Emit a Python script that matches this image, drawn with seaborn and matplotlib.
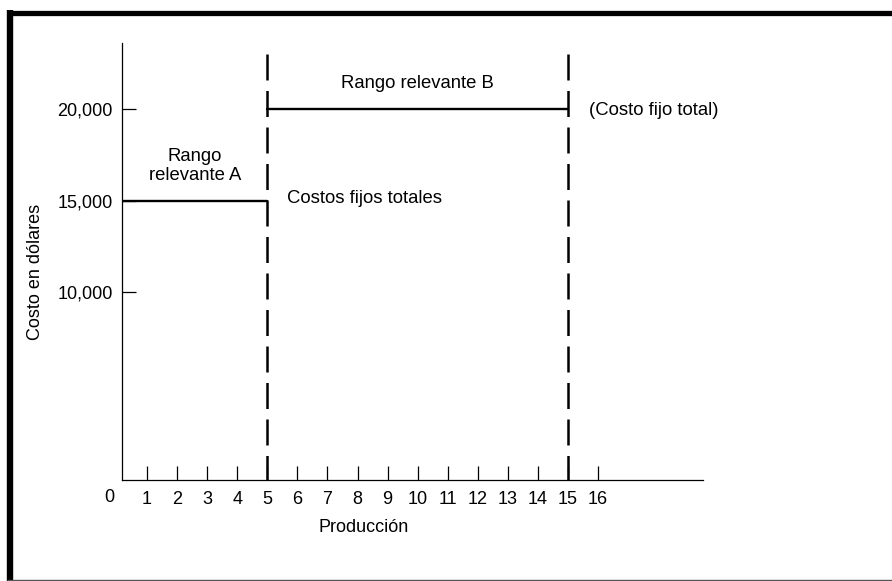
import matplotlib
matplotlib.use("Agg")
import matplotlib.pyplot as plt
import matplotlib.transforms as mtransforms
from matplotlib.lines import Line2D
import seaborn as sns

# chart values
prod_ticks = list(range(1, 17))
cost_ticks = [10000, 15000, 20000]
cost_labels = ["10,000", "15,000", "20,000"]
range_a = [0, 5]
cost_a = [15000, 15000]
range_b = [5, 15]
cost_b = [20000, 20000]
boundaries = [5, 15]
boundary_top = 23000

sns.set_theme(style="white")
plt.rcParams['font.family'] = ['Liberation Sans', 'DejaVu Sans']
plt.rcParams['font.size'] = 13
plt.rcParams['text.color'] = 'black'
plt.rcParams['axes.labelcolor'] = 'black'
plt.rcParams['xtick.color'] = 'black'
plt.rcParams['ytick.color'] = 'black'

fig = plt.figure(figsize=(8.92, 5.81), dpi=100)
ax = fig.add_axes([0.1368, 0.1738, 0.6513, 0.7522])

y_min, y_max = -273, 23607
x_min, x_max = 0.166, 19.49

# fixed cost levels for each relevant range
sns.lineplot(x=range_a, y=cost_a, ax=ax, color='black', linewidth=1.7, estimator=None)
sns.lineplot(x=range_b, y=cost_b, ax=ax, color='black', linewidth=1.7, estimator=None)

# range boundaries (dashed)
for b in boundaries:
    ax.plot([b, b], [boundary_top, y_min], color='black', linewidth=1.8,
            linestyle=(0, (10.4, 4.2)), solid_capstyle='butt')

ax.set_xlim(x_min, x_max)
ax.set_ylim(y_min, y_max)

sns.despine(ax=ax)
for side in ['left', 'bottom']:
    ax.spines[side].set_color('black')
    ax.spines[side].set_linewidth(0.9)

ax.set_xticks(prod_ticks)
ax.set_xticklabels([str(t) for t in prod_ticks])
ax.set_yticks(cost_ticks)
ax.set_yticklabels(cost_labels)
ax.tick_params(axis='x', direction='in', length=10, width=0.9, color='black',
               labelcolor='black', pad=8, labelsize=13, bottom=True)
ax.tick_params(axis='y', direction='in', length=10, width=0.9, color='black',
               labelcolor='black', pad=6.5, labelsize=13, left=True)

# the "0" label sits left of the y axis
blend = mtransforms.blended_transform_factory(ax.transData, ax.transAxes)
ax.text(-0.27, -0.039, "0", transform=blend, ha='center', va='center',
        fontsize=13, color='black')

ax.set_xlabel("Producción", fontsize=13, va='center', color='black')
ax.xaxis.set_label_coords(0.4165, -0.1076)
ax.set_ylabel("Costo en dólares", fontsize=13, va='center', color='black')
ax.yaxis.set_label_coords(-0.1497, 0.476)

ax.text(10.0, 21421, "Rango relevante B", ha='center', va='center', fontsize=13.3, color='black')
ax.text(2.59, 16885, "Rango\nrelevante A", ha='center', va='center',
        multialignment='center', fontsize=13.3, color='black')
ax.text(5.65, 15137, "Costos fijos totales", ha='left', va='center', fontsize=13.3, color='black')
ax.text(15.70, 19945, "(Costo fijo total)", ha='left', va='center', fontsize=13.3, color='black')

# frame around the figure (left and top heavy, bottom thin)
fig.add_artist(Line2D([9.8 / 892, 9.8 / 892], [0, 1 - 10 / 581], color='black',
                      linewidth=4.6, transform=fig.transFigure, solid_capstyle='butt'))
fig.add_artist(Line2D([7 / 892, 1], [1 - 12.5 / 581, 1 - 12.5 / 581], color='black',
                      linewidth=3.8, transform=fig.transFigure, solid_capstyle='butt'))
fig.add_artist(Line2D([7 / 892, 1], [1.2 / 581, 1.2 / 581], color='#555555',
                      linewidth=1.0, transform=fig.transFigure, solid_capstyle='butt'))

fig.savefig("out.png", dpi=100)
